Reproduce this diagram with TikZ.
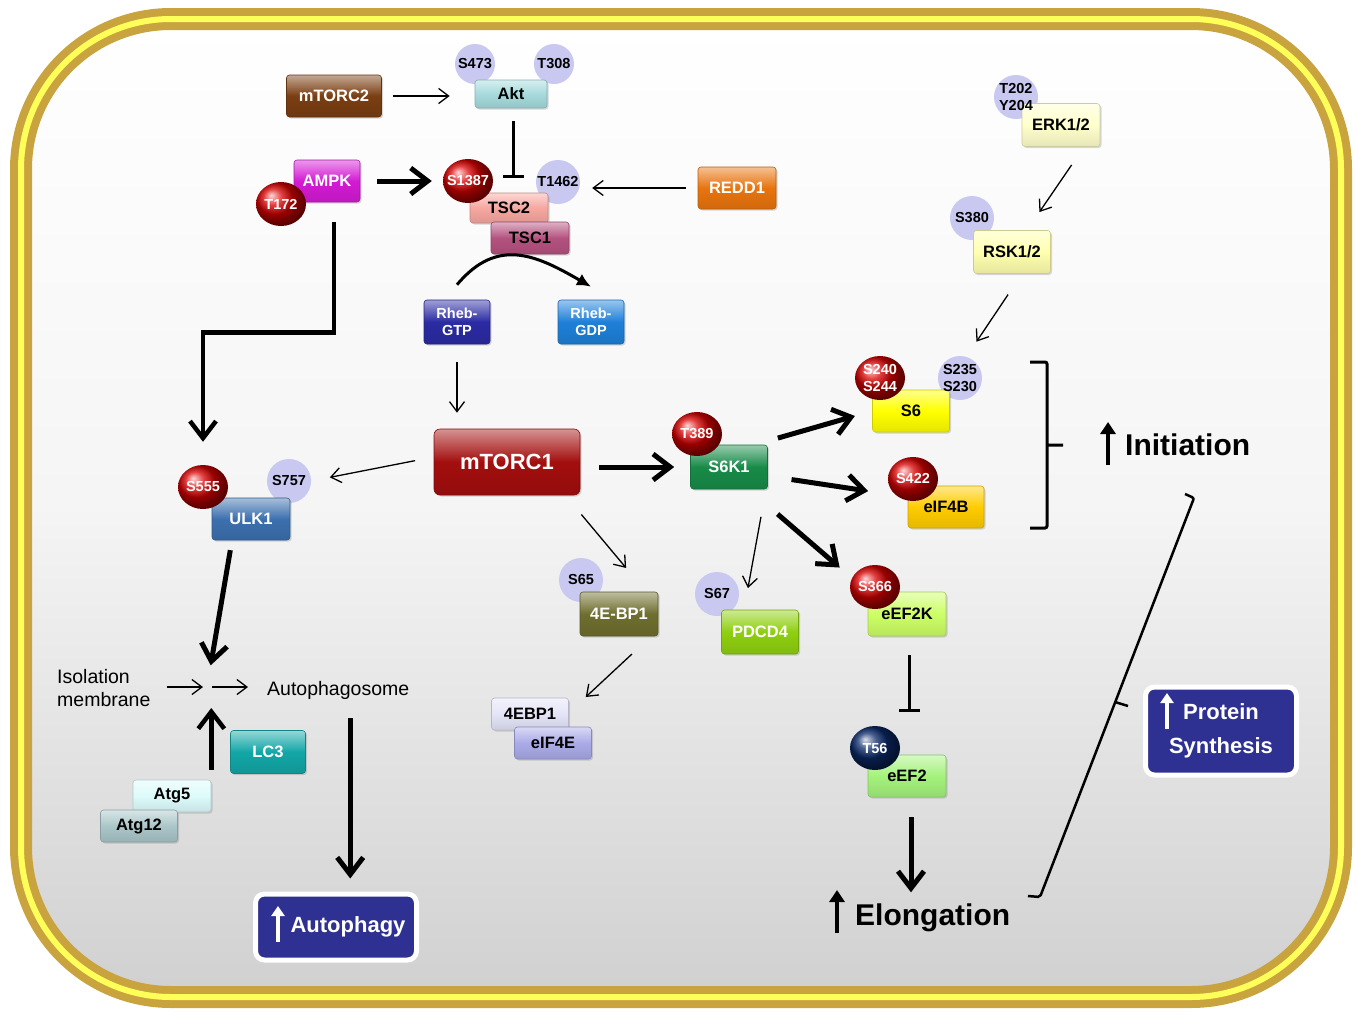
\documentclass[tikz,border=0pt]{standalone}
\usepackage{fontspec}
\setmainfont{Liberation Sans}
\usetikzlibrary{arrows.meta, positioning, shapes.geometric, shadows, backgrounds}

\definecolor{mtorcbrown}{HTML}{7A3E12}
\definecolor{aktcyan}{HTML}{A6DADC}
\definecolor{ampkpink}{HTML}{D31BD3}
\definecolor{tscsalmon}{HTML}{F6A7A0}
\definecolor{tscmauve}{HTML}{B4527F}
\definecolor{reddorange}{HTML}{E8740E}
\definecolor{rhebnavy}{HTML}{2B2BA3}
\definecolor{rhebblue}{HTML}{1E80D8}
\definecolor{mtorcred}{HTML}{A30E0E}
\definecolor{sixkgreen}{HTML}{188B48}
\definecolor{ulkblue}{HTML}{3C70AE}
\definecolor{lcteal}{HTML}{13A6A6}
\definecolor{atgfive}{HTML}{DDFBFB}
\definecolor{atgtwelve}{HTML}{AAC6C8}
\definecolor{ebpolive}{HTML}{6E6E2F}
\definecolor{ebplight}{HTML}{E4E4F8}
\definecolor{eiflav}{HTML}{AAAAE8}
\definecolor{pdcdgreen}{HTML}{8FCF10}
\definecolor{eefklime}{HTML}{CCFF66}
\definecolor{eefgreen}{HTML}{A4F27C}
\definecolor{sixyellow}{HTML}{FFFF00}
\definecolor{eifgold}{HTML}{FFCC00}
\definecolor{erkcream}{HTML}{FFFFCC}
\definecolor{rskcream}{HTML}{FFFFB0}
\definecolor{sitelav}{HTML}{C8C8F0}
\definecolor{synthnavy}{HTML}{2E3192}
\definecolor{framegold}{HTML}{C9A43E}
\definecolor{frameyellow}{HTML}{FFFF5A}
\definecolor{bggrey}{HTML}{D0D0D0}
\definecolor{tfiftysix}{HTML}{0B2A6B}

\newcommand\protfont{\bfseries\fontsize{16.5}{19}\selectfont}
\newcommand\sitefont{\bfseries\fontsize{14.5}{17.5}\selectfont}
\newcommand\mtorfont{\bfseries\fontsize{22}{26}\selectfont}
\newcommand\outfont{\bfseries\fontsize{22}{34}\selectfont}
\newcommand\headfont{\bfseries\fontsize{30}{34}\selectfont}
\newcommand\notefont{\fontsize{19.5}{23}\selectfont}

\begin{document}
\begin{tikzpicture}[
x=1pt, y=-1pt,
prot/.style={rectangle, rounded corners=3pt, minimum width=78pt, minimum height=42pt,
  inner sep=2pt, font=\protfont, draw=#1!80!black, line width=0.6pt,
  top color=#1!45!white, bottom color=#1!90!black, middle color=#1,
  drop shadow={shadow xshift=1.5pt, shadow yshift=-1.5pt, opacity=.3}},
psite/.style={circle, minimum size=44pt, inner sep=-3pt, font=\sitefont, align=center},
pred/.style={ellipse, minimum width=50pt, minimum height=44pt, inner sep=-5pt,
  ball color=red!85!black, text=white, font=\sitefont, align=center},
outcome/.style={rectangle, rounded corners=9pt, fill=synthnavy, draw=white,
  line width=5pt, text=white, font=\outfont, align=center},
note/.style={inner sep=0pt, font=\notefont},
head/.style={inner sep=0pt, font=\headfont},
thinarr/.style={-{Straight Barb[length=10pt,width=15pt]}, line width=1.3pt},
thickarr/.style={-{Straight Barb[length=17pt,width=26pt]}, line width=5pt},
inhib/.style={-{Bar[width=21pt]}, line width=3pt},
uparr/.style={-{Triangle[length=12pt,width=15pt]}, line width=4.5pt},
whitearr/.style={-{Triangle[length=10pt,width=13pt]}, line width=3.5pt, white},
brack/.style={line width=3pt, rounded corners=2pt}
]
\useasboundingbox (0,0) rectangle (1358,1015);

% proteins
\node[prot=mtorcbrown, text=white, minimum width=95pt] (mtorc2) at (334,96) {mTORC2};
\node[prot=aktcyan, minimum width=72pt, minimum height=28pt] (akt) at (511,94) {Akt};
\node[prot=ampkpink, text=white, minimum width=66pt] (ampk) at (327,181) {AMPK};
\node[prot=tscsalmon, minimum height=30pt] (tsc2) at (509,208) {TSC2};
\node[prot=tscmauve, minimum height=32pt] (tsc1) at (530,238) {TSC1};
\node[prot=reddorange, text=white] (redd1) at (737,188) {REDD1};
\node[prot=rhebnavy, text=white, minimum width=66pt, minimum height=44pt,
  font=\sitefont, align=center] (rhebgtp) at (457,322) {Rheb-\\GTP};
\node[prot=rhebblue, text=white, minimum width=66pt, minimum height=44pt,
  font=\sitefont, align=center] (rhebgdp) at (591,322) {Rheb-\\GDP};
\node[prot=mtorcred, text=white, minimum width=146pt, minimum height=66pt,
  rounded corners=6pt, font=\mtorfont] (mtorc1) at (507,462) {mTORC1};
\node[prot=sixkgreen, text=white, minimum width=77pt, minimum height=44pt] (s6k1) at (729,467) {S6K1};
\node[prot=ulkblue, text=white] (ulk1) at (251,519) {ULK1};
\node[prot=lcteal, text=white, minimum width=75pt, minimum height=43pt] (lc3) at (268,752) {LC3};
\node[prot=atgfive, minimum height=32pt] (atg5) at (172,796) {Atg5};
\node[prot=atgtwelve, minimum width=77pt, minimum height=32pt] (atg12) at (139,826) {Atg12};
\node[prot=ebpolive, text=white, minimum height=44pt] (ebp1) at (619,614) {4E-BP1};
\node[prot=ebplight, minimum width=77pt, minimum height=32pt] (fourebp) at (530,714) {4EBP1};
\node[prot=eiflav, minimum width=77pt, minimum height=32pt] (eif4e) at (553,743) {eIF4E};
\node[prot=pdcdgreen, text=white, minimum width=77pt, minimum height=44pt] (pdcd4) at (760,632) {PDCD4};
\node[prot=eefklime, minimum height=44pt] (eef2k) at (907,614) {eEF2K};
\node[prot=eefgreen] (eef2) at (907,776) {eEF2};
\node[prot=sixyellow, minimum width=77pt] (s6) at (911,411) {S6};
\node[prot=eifgold, minimum width=76pt] (eif4b) at (946,507) {eIF4B};
\node[prot=erkcream, minimum height=43pt] (erk) at (1061,125) {ERK1/2};
\node[prot=rskcream, minimum width=77pt, minimum height=43pt] (rsk) at (1012,252) {RSK1/2};

% phosphorylation sites (discs go on the background layer)
\node[psite, minimum size=40pt] (s473) at (475,64) {S473};
\node[psite, minimum size=40pt] (t308) at (554,64) {T308};
\node[psite] (t1462) at (558,182) {T1462};
\node[psite] (s757) at (289,481) {S757};
\node[psite] (s65) at (581,580) {S65};
\node[psite] (s67) at (717,594) {S67};
\node[psite] (s235) at (960,378) {S235\\S230};
\node[psite] (t202) at (1016,97) {T202\\Y204};
\node[psite] (s380) at (972,218) {S380};

\node[pred] (t172) at (281,204) {T172};
\node[pred] (s1387) at (468,181) {S1387};
\node[pred] (t389) at (697,434) {T389};
\node[pred] (s555) at (203,487) {S555};
\node[pred] (s240) at (880,378) {S240\\S244};
\node[pred] (s422) at (913,479) {S422};
\node[pred] (s366) at (875,587) {S366};
\node[pred, ball color=tfiftysix] (t56) at (875,748) {T56};

% texts and outcomes
\node[note, anchor=west, align=left] (iso) at (57,688) {Isolation\\membrane};
\node[note, anchor=base west] (autoph) at (267,695) {Autophagosome};
\coordinate (junc) at (207,687);
\node[outcome, minimum width=161pt, minimum height=66pt] (autophagy) at (336,927) {\hspace*{24pt}Autophagy};
\node[outcome, minimum width=151pt, minimum height=88pt] (protsyn) at (1221,731) {Protein\\Synthesis};
\node[head, anchor=base west] (init) at (1125,455) {Initiation};
\node[head, anchor=base west] (elong) at (855,925) {Elongation};

\draw[whitearr] ([xshift=-58pt,yshift=-15pt]autophagy.center) -- ++(0,-36);
\draw[whitearr] ([xshift=-54pt,yshift=2pt]protsyn.center) -- ++(0,-36);
\draw[uparr] ([xshift=-17pt,yshift=-10pt]init.base west) -- ++(0,-43);
\draw[uparr] ([xshift=-18pt,yshift=-8pt]elong.base west) -- ++(0,-43);

% upstream of mTORC1
\draw[thinarr, shorten <=11pt, shorten >=25pt] (mtorc2.east) -- (mtorc2.east -| akt.west);
\draw[inhib, shorten <=13pt, shorten >=15pt] ([xshift=2pt]akt.south) -- ([xshift=2pt]akt.south |- tsc2.north);
\draw[thickarr, shorten <=17pt, shorten >=11pt] (ampk.east) -- (ampk.east -| s1387.west);
\draw[thinarr, shorten <=12pt, shorten >=12pt] (redd1.west) -- (redd1.west -| t1462.east);
\draw[line width=3pt, -{Latex[length=14pt,width=13pt]}] ([yshift=15pt]rhebgtp.north)
  to[out=50, in=150, looseness=1.2] ([yshift=13pt]rhebgdp.north);
\draw[thinarr, shorten <=18pt, shorten >=16pt] (rhebgtp.south) -- (rhebgtp.south |- mtorc1.north);

% autophagy branch
\draw[thickarr, line width=4.5pt, shorten <=20pt, shorten >=23pt] ([xshift=7pt]ampk.south) -- ++(0,130) -| (s555.north);
\draw[thinarr, shorten <=19pt, shorten >=19pt] ([yshift=5pt]mtorc1.west) -- (s757.east);
\draw[thickarr, shorten <=10pt, shorten >=22pt] ([xshift=-19pt]ulk1.south) -- (junc);
\draw[thinarr, shorten <=16pt, shorten >=4pt] (iso.east |- junc) -- (junc);
\draw[thinarr, shorten <=5pt, shorten >=19pt] (junc) -- (junc -| autoph.west);
\draw[thickarr, line width=4.5pt, shorten <=10pt, shorten >=21pt] (atg5.north east) -- (atg5.north east |- junc);
\draw[thickarr, shorten <=19pt, shorten >=13pt] ([xshift=12pt]autoph.south) -- ([xshift=12pt]autoph.south |- autophagy.north);

% translation branch
\draw[thickarr, shorten <=19pt, shorten >=16pt] (mtorc1.east |- s6k1) -- (s6k1.west);
\draw[thinarr, shorten <=25pt, shorten >=31pt] ([xshift=-15pt]mtorc1.south east) -- ([xshift=27pt]ebp1.north);
\draw[thinarr, shorten <=26pt, shorten >=1pt] ([xshift=32pt]ebp1.south) -- ([xshift=55pt]fourebp.north);
\draw[thinarr, shorten <=28pt, shorten >=22pt] ([xshift=37pt]s6k1.south) -- ([xshift=-16pt]pdcd4.north);
\draw[thickarr, shorten <=38pt, shorten >=37pt] ([xshift=-19pt]s6k1.south east) -- (eef2k.north west);
\draw[thickarr, shorten <=24pt, shorten >=18pt] ([xshift=-13pt]s6k1.north east) -- (s6.west);
\draw[thickarr, shorten <=24pt, shorten >=40pt] ([yshift=-9pt]s6k1.east) -- ([yshift=10pt]eif4b.west);
\draw[thinarr, shorten <=22pt, shorten >=22pt] ([xshift=23pt]erk.south) -- ([xshift=15pt]rsk.north);
\draw[thinarr, shorten <=25pt, shorten >=17pt] ([xshift=10pt]rsk.south) -- ([xshift=7pt]s235.north);
\draw[inhib, shorten <=19pt, shorten >=43pt] ([xshift=2pt]eef2k.south) -- ([xshift=2pt]eef2k.south |- eef2.north);
\draw[thickarr, shorten <=20pt] ([xshift=4pt]eef2.south) -- ++(0,95);

% brackets
\draw[brack] (1030,362) -- (1047,362) -- (1047,528) -- (1030,528) (1047,445) -- (1063,445);
\draw[brack, line width=2.5pt] (1185,494) -- (1194,498) -- (1040,897) -- (1028,896) (1115,702) -- (1128,706);

\begin{scope}[on background layer]
% frame
\fill[top color=white, bottom color=bggrey, middle color=black!4, rounded corners=150pt]
  (21,19) rectangle (1341,997);
\draw[framegold, line width=22pt, rounded corners=150pt] (21,19) rectangle (1341,997);
\draw[frameyellow, line width=6pt, rounded corners=150pt] (21,19) rectangle (1341,997);
% site discs behind the proteins
\foreach \site/\rad in {s473/20, t308/20, t1462/22, s757/22, s65/22, s67/22, s235/22, t202/22, s380/22}
  \fill[sitelav] (\site.center) circle (\rad pt);
\end{scope}
\end{tikzpicture}
\end{document}
